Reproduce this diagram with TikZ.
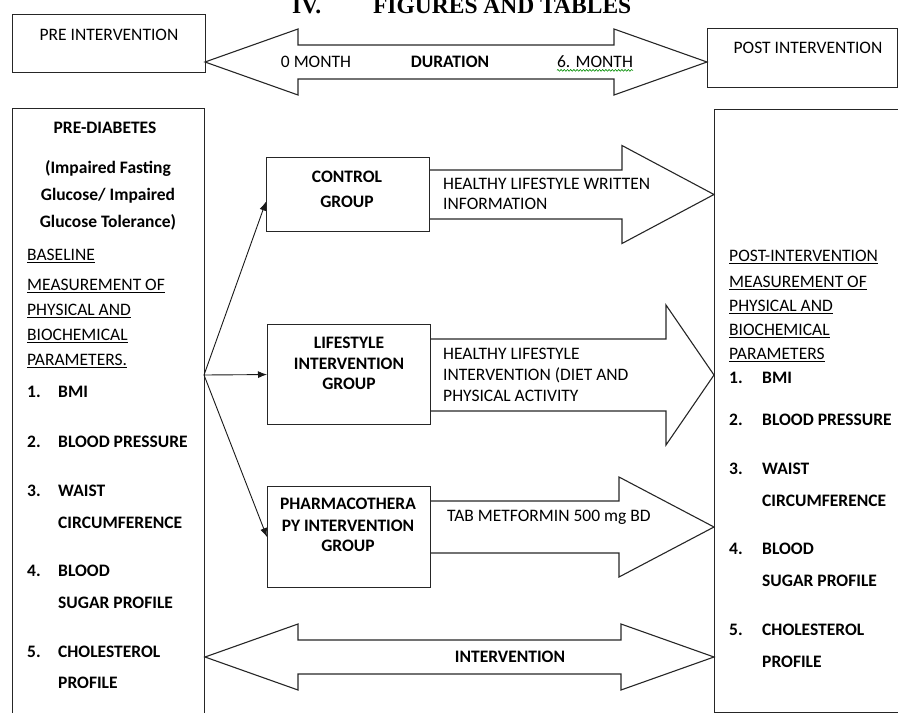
\documentclass[tikz,border=0pt]{standalone}
\usepackage{fontspec}
\setmainfont{Carlito}
\newfontfamily\titlefont{Liberation Serif}
\usetikzlibrary{arrows.meta, decorations.pathmorphing}

\tikzset{
  txt/.style={inner sep=0pt, text height=11.3pt, text depth=0pt, font=\fontsize{17.5}{21}\selectfont},
  btxt/.style={txt, font=\fontsize{17.5}{21}\selectfont\bfseries},
  frame/.style={draw=black!85, line width=1.1pt, inner sep=0pt, anchor=north west},
  bigarrow/.style={draw=black!85, line width=1.1pt, line join=miter},
  link/.style={draw=black!90, line width=0.9pt, -{Latex[length=9pt, width=7pt]}},
  squiggle/.style={decorate, decoration={snake, amplitude=0.9pt, segment length=3.2pt}, green!55!black, line width=0.6pt}
}

\begin{document}
\begin{tikzpicture}[x=1pt, y=-1pt]

    \useasboundingbox (0,0) rectangle (898,713);

    % section title, cut by the page top
    \node[anchor=base west, inner sep=0pt, font=\titlefont\bfseries\fontsize{23.5}{26}\selectfont] (title) at (292,13) {IV.\hspace{52pt}FIGURES AND TABLES};

    % top row
    \node[frame, minimum width=193pt, minimum height=58pt] (prebox) at (12,14) {};
    \node[frame, minimum width=190pt, minimum height=59pt] (postbox) at (707,28) {};
    \node[txt] (pretitle) at (109,35) {PRE INTERVENTION};
    \node[txt] (posttitle) at (808,48) {POST INTERVENTION};

    % double arrows (duration and intervention)
    \foreach \yc/\lx/\rx in {62/205/707, 657/205/714} {
        \draw[bigarrow] (\lx,\yc) -- (\lx+93,\yc-33) -- (\lx+93,\yc-17) -- (\rx-93,\yc-17) -- (\rx-93,\yc-33)
            -- (\rx,\yc) -- (\rx-93,\yc+33) -- (\rx-93,\yc+17) -- (\lx+93,\yc+17) -- (\lx+93,\yc+33) -- cycle;
    }
    \node[txt] (zerom) at (316,62) {0 MONTH};
    \node[btxt] (duration) at (450,62) {DURATION};
    \node[txt] (sixm) at (595,62) {6. MONTH};
    \draw[squiggle] ([yshift=-2.5pt]sixm.south west) -- ([yshift=-2.5pt]sixm.south east);
    \node[btxt] (interv) at (510,657) {INTERVENTION};

    % left box : pre-diabetes
    \node[frame, minimum width=192pt, minimum height=640pt] (left) at (12,108) {};
    \node[btxt] (prediab) at (105,128) {PRE-DIABETES};
    \node[btxt] (igt1) at (108,168) {(Impaired Fasting};
    \node[btxt] (igt2) at (108,195) {Glucose/ Impaired};
    \node[btxt] (igt3) at (108,222) {Glucose Tolerance)};
    \foreach \yy/\lbl [count=\i] in {255/BASELINE, 285/MEASUREMENT OF, 310/PHYSICAL AND, 335/BIOCHEMICAL, 360/PARAMETERS.} {
        \node[txt, anchor=west] (prehead\i) at (27,\yy) {\underline{\lbl}};
    }
    \foreach \nr/\yy/\lbl [count=\i] in {1./392/BMI, 2./442/BLOOD PRESSURE, 3./491/WAIST, 4./571/BLOOD, 5./652/CHOLESTEROL} {
        \node[btxt, anchor=west] (prenr\i) at (27,\yy) {\nr};
        \node[btxt, anchor=west] (preitem\i) at (58,\yy) {\lbl};
    }
    \foreach \yy/\lbl [count=\i] in {523/CIRCUMFERENCE, 603/SUGAR PROFILE, 683/PROFILE} {
        \node[btxt, anchor=west] (precont\i) at (58,\yy) {\lbl};
    }

    % right box : post-intervention
    \node[frame, minimum width=200pt, minimum height=603pt] (right) at (714,109) {};
    \foreach \yy/\lbl [count=\i] in {256/POST-INTERVENTION, 282/MEASUREMENT OF, 306/PHYSICAL AND, 330/BIOCHEMICAL, 354/PARAMETERS} {
        \node[txt, anchor=west] (posthead\i) at (729,\yy) {\underline{\lbl}};
    }
    \foreach \nr/\yy/\lbl [count=\i] in {1./378/BMI, 2./420/BLOOD PRESSURE, 3./469/WAIST, 4./549/BLOOD, 5./630/CHOLESTEROL} {
        \node[btxt, anchor=west] (postnr\i) at (729,\yy) {\nr};
        \node[btxt, anchor=west] (postitem\i) at (762,\yy) {\lbl};
    }
    \foreach \yy/\lbl [count=\i] in {501/CIRCUMFERENCE, 581/SUGAR PROFILE, 662/PROFILE} {
        \node[btxt, anchor=west] (postcont\i) at (762,\yy) {\lbl};
    }

    % groups
    \node[frame, minimum width=163pt, minimum height=74pt] (control) at (266,157) {};
    \node[frame, minimum width=163pt, minimum height=100pt] (lifestyle) at (267,324) {};
    \node[frame, minimum width=163pt, minimum height=101pt] (pharma) at (267,486) {};

    \node[btxt] (ctl1) at (347,177) {CONTROL};
    \node[btxt] (ctl2) at (347,202) {GROUP};
    \node[btxt] (lif1) at (349,343) {LIFESTYLE};
    \node[btxt] (lif2) at (349,364) {INTERVENTION};
    \node[btxt] (lif3) at (349,384) {GROUP};
    \node[btxt] (pha1) at (348,504) {PHARMACOTHERA};
    \node[btxt] (pha2) at (348,526) {PY INTERVENTION};
    \node[btxt] (pha3) at (348,546) {GROUP};

    % randomisation arrows
    \coordinate (split) at (204,375);
    \draw[link] (split) -- ([yshift=-7pt]control.west);
    \draw[link] (split) -- (lifestyle.west);
    \draw[link] (split) -- (pharma.west);

    % block arrows to post-intervention
    \foreach \yc/\sw/\hx/\hw in {194.5/24.5/622/49, 375/36/666/70, 527/26/619/50} {
        \draw[bigarrow] (430,\yc-\sw) -- (\hx,\yc-\sw) -- (\hx,\yc-\hw) -- (714,\yc) -- (\hx,\yc+\hw) -- (\hx,\yc+\sw) -- (430,\yc+\sw);
    }
    \node[txt, anchor=west] (info1) at (443,184) {HEALTHY LIFESTYLE WRITTEN};
    \node[txt, anchor=west] (info2) at (443,204) {INFORMATION};
    \node[txt, anchor=west] (diet1) at (443,354) {HEALTHY LIFESTYLE};
    \node[txt, anchor=west] (diet2) at (443,375) {INTERVENTION (DIET AND};
    \node[txt, anchor=west] (diet3) at (443,396) {PHYSICAL ACTIVITY};
    \node[txt, anchor=west] (metf) at (447,516) {TAB METFORMIN 500 mg BD};

\end{tikzpicture}
\end{document}
